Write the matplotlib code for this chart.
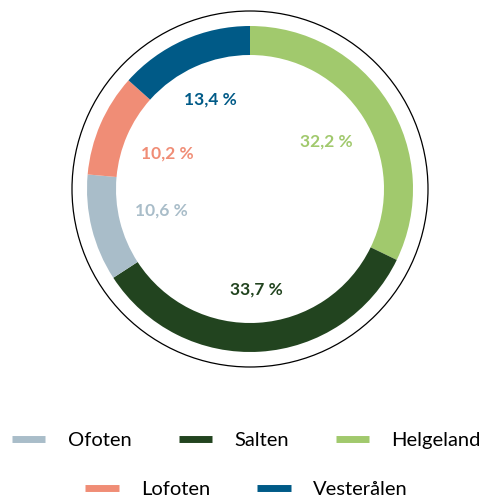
import matplotlib
matplotlib.use("Agg")
import matplotlib.pyplot as plt
import numpy as np
from matplotlib.lines import Line2D
from matplotlib.patches import Circle

# Data (clockwise from 12 o'clock)
regions = ["Helgeland", "Salten", "Ofoten", "Lofoten", "Vesterålen"]
shares = [32.2, 33.7, 10.6, 10.2, 13.4]
colors = ["#A1C96D", "#22441F", "#A9BDC9", "#F08D76", "#005A87"]

legend_row1 = ["Ofoten", "Salten", "Helgeland"]
legend_row2 = ["Lofoten", "Vesterålen"]

plt.rcParams["font.family"] = ["Lato", "DejaVu Sans"]

W, H = 493, 499
fig = plt.figure(figsize=(W / 100, H / 100), dpi=100)
ax = fig.add_axes([0, 0, 1, 1])

center = (250, H - 189)
R = 163

wedges, _ = ax.pie(
    shares, colors=colors, startangle=90, counterclock=False,
    center=center, radius=R, frame=True,
    wedgeprops=dict(width=R - 134, linewidth=0),
)
ax.set_xlim(0, W)
ax.set_ylim(0, H)
ax.axis("off")

# percentage labels inside the ring
label_r = [0.55, 0.62, 0.56, 0.55, 0.60]
for w, val, col, lr in zip(wedges, shares, colors, label_r):
    ang = np.deg2rad((w.theta1 + w.theta2) / 2)
    x = center[0] + R * lr * np.cos(ang)
    y = center[1] + R * lr * np.sin(ang)
    ax.text(x, y, f"{val:.1f}".replace(".", ",") + " %", color=col,
            fontsize=12.5, fontweight="bold", ha="center", va="center")

# thin outer circle
ax.add_patch(Circle(center, 178, fill=False, edgecolor="black", linewidth=0.9))

col_of = dict(zip(regions, colors))


def _handles(names):
    return [Line2D([0], [0], color=col_of[n], linewidth=5, solid_capstyle="butt") for n in names]


leg_kw = dict(frameon=False, fontsize=14.5, handlelength=1.65, handletextpad=1.1,
              columnspacing=2.35, borderaxespad=0)
leg1 = fig.legend(_handles(legend_row1), legend_row1, ncol=3, loc="center",
                  bbox_to_anchor=(0.5, 1 - 440 / H), **leg_kw)
leg2 = fig.legend(_handles(legend_row2), legend_row2, ncol=2, loc="center",
                  bbox_to_anchor=(0.5, 1 - 489 / H), **leg_kw)

fig.savefig("out.png", dpi=100)
